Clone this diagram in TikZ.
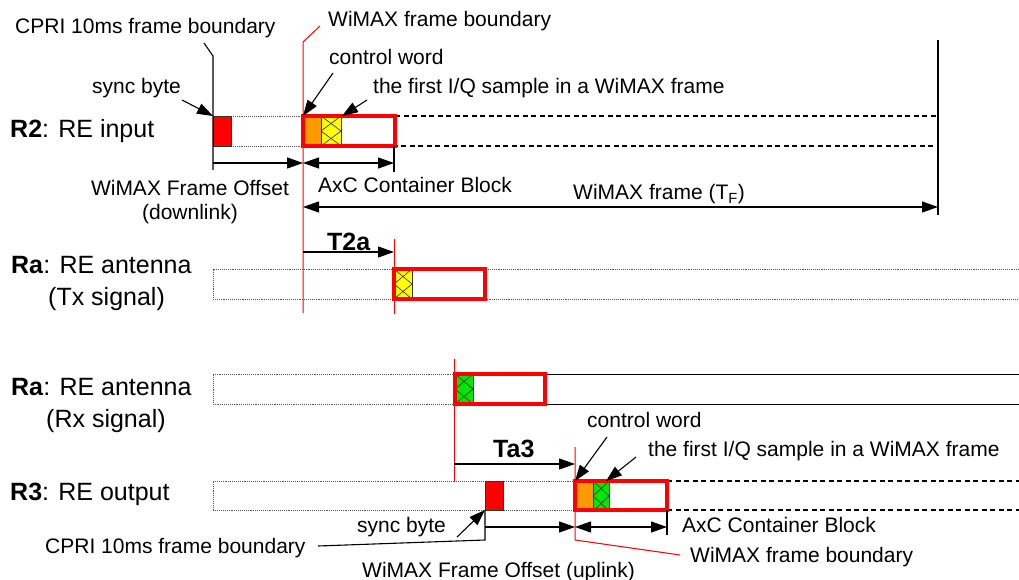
\documentclass[tikz,border=0pt]{standalone}
\usepackage{fontspec}
\setmainfont{Liberation Sans}
\usetikzlibrary{arrows.meta}
\definecolor{cwor}{RGB}{255,153,0}
\definecolor{iqy}{RGB}{255,255,0}
\definecolor{iqg}{RGB}{0,230,0}
\definecolor{pred}{RGB}{255,0,0}
% #1 x, #2 y (top), #3 width, #4 colour
\newcommand\hatchcell[4]{%
  \fill[#4] (#1,#2) rectangle ++(#3,30);
  \draw[hatchl] (#1,#2) -- ++(#3,15) -- ++(-#3,15);
  \draw[hatchl] (#1+#3,#2) -- ++(-#3,15) -- ++(#3,15);
  \draw[cellb] (#1,#2) rectangle ++(#3,30);}
\begin{document}
\begin{tikzpicture}[x=1pt,y=-1pt,
  >={Triangle[length=16pt,width=11pt]},
  lbl/.style={font=\fontsize{21}{25}\selectfont,inner sep=0pt,anchor=base west},
  big/.style={font=\fontsize{25}{30}\selectfont,inner sep=0pt,anchor=base west},
  band/.style={draw=black!65,line width=0.9pt,densely dotted},
  solidband/.style={draw=black,line width=1pt},
  dline/.style={draw=black,line width=1.8pt,dash pattern=on 5pt off 3.5pt},
  redbox/.style={draw=pred,line width=3.2pt},
  redl/.style={draw=pred,line width=1pt},
  dim/.style={draw=black,line width=1.1pt},
  hatchl/.style={draw=black!75,line width=0.7pt},
  cellb/.style={draw=black!80,line width=0.8pt},
  syncb/.style={fill=pred,draw=black!80,line width=0.8pt}]
\useasboundingbox (0,0) rectangle (1019,580);

% ---------------- texts ----------------
\node[lbl] (cpri1) at (15,33.5) {CPRI 10ms frame boundary};
\node[lbl] (wfb1) at (328,27) {WiMAX frame boundary};
\node[lbl] (cw1) at (329,64.5) {control word};
\node[lbl] (iq1) at (373,94) {the first I/Q sample in a WiMAX frame};
\node[lbl] (sb1) at (92,93.5) {sync byte};
\node[big] (r2) at (10,138) {\textbf{R2}: RE input};
\node[lbl,anchor=base] (wfo1) at (190,195) {WiMAX Frame Offset};
\node[lbl,anchor=base] (wfo1b) at (190,219) {(downlink)};
\node[lbl] (axc1) at (318,193) {AxC Container Block};
\node[lbl] (tf) at (573,200) {WiMAX frame (T\textsubscript{F})};
\node[big] (t2a) at (327,250) {\textbf{T2a}};
\node[big] (ratx) at (11,273) {\textbf{Ra}: RE antenna};
\node[big] (ratx2) at (48,305) {(Tx signal)};
\node[big] (rarx) at (11,395) {\textbf{Ra}: RE antenna};
\node[big] (rarx2) at (46,427) {(Rx signal)};
\node[big] (ta3) at (493,457) {\textbf{Ta3}};
\node[lbl] (cw2) at (587,427) {control word};
\node[lbl] (iq2) at (648,456) {the first I/Q sample in a WiMAX frame};
\node[big] (r3) at (10,500) {\textbf{R3}: RE output};
\node[lbl] (sb2) at (357,532) {sync byte};
\node[lbl] (cpri2) at (45,553) {CPRI 10ms frame boundary};
\node[lbl] (axc2) at (682,532) {AxC Container Block};
\node[lbl] (wfb2) at (690,562) {WiMAX frame boundary};
\node[lbl] (wfo2) at (362,577) {WiMAX Frame Offset (uplink)};

% ---------------- R2 row ----------------
\coordinate (r2sync) at (213,116);
\coordinate (r2box) at (303,116);
\coordinate (r2boxe) at (395,146);
\draw[band] (231,116) -- (303,116) (231,146) -- (303,146);
\draw[dline] (395,116) -- (938,116) -- (938,146) -- (395,146);
\draw[syncb] (213,116) rectangle (231,146);
\fill[cwor] (303,116) rectangle (321,146);
\hatchcell{321}{116}{20}{iqy}
\draw[redbox] (r2box) rectangle (r2boxe);

\coordinate (cpriA) at (204,43);
\coordinate (cpriB) at (213,56);
\coordinate (cpriC) at (213,170);
\draw[dim] (cpriA) -- (cpriB) -- (cpriC);
\coordinate (wfbA) at (320,26);
\coordinate (wfbB) at (303,42);
\coordinate (wfbC) at (303,313);
\draw[redl] (wfbA) -- (wfbB) -- (wfbC);
\coordinate (endA) at (938,40);
\coordinate (endB) at (938,215);
\draw[dim] (endA) -- (endB);

\coordinate (sb1s) at (182,100);
\draw[dim,->] (sb1s) -- (r2sync);
\coordinate (cw1s) at (333,73);
\draw[dim,->] (cw1s) -- (r2box);
\coordinate (iq1s) at (367,100);
\coordinate (iq1t) at (342,116);
\draw[dim,->] (iq1s) -- (iq1t);

\coordinate (d1a) at (213,163);
\coordinate (d1b) at (303,163);
\coordinate (d1c) at (394,163);
\draw[dim,->] (d1a) -- (d1b);
\draw[dim,<->] (d1b) -- (d1c);
\coordinate (tk1a) at (394,146);
\coordinate (tk1b) at (394,172);
\draw[dim] (tk1a) -- (tk1b);
\coordinate (tfa) at (303,207);
\coordinate (tfb) at (938,207);
\draw[dim,<->] (tfa) -- (tfb);

% ---------------- T2a / Ra Tx ----------------
\coordinate (t2aa) at (303,252);
\coordinate (t2ab) at (394,252);
\draw[dim,->] (t2aa) -- (t2ab);
\coordinate (rl2a) at (394,239);
\coordinate (rl2b) at (394,314);
\draw[redl] (rl2a) -- (rl2b);

\draw[band] (1019,269) -- (213,269) -- (213,299) -- (1019,299);
\hatchcell{394}{269}{18}{iqy}
\draw[redbox] (394,269) rectangle (485,299);

% ---------------- Ra Rx ----------------
\draw[band] (455,374) -- (213,374) -- (213,404) -- (455,404);
\draw[solidband] (545,374) -- (1019,374) (545,404) -- (1019,404);
\hatchcell{455}{374}{18}{iqg}
\draw[redbox] (455,374) rectangle (545,404);
\coordinate (rl3a) at (454,359);
\coordinate (rl3b) at (454,481);
\draw[redl] (rl3a) -- (rl3b);

\coordinate (ta3a) at (454,464);
\coordinate (ta3b) at (575,464);
\draw[dim,->] (ta3a) -- (ta3b);
\coordinate (wfb2a) at (575,447);
\coordinate (wfb2b) at (575,540);
\coordinate (wfb2c) at (680,555);
\draw[redl] (wfb2a) -- (wfb2b) -- (wfb2c);

% ---------------- R3 row ----------------
\coordinate (r3sync) at (485,510);
\coordinate (r3box) at (575,481);
\coordinate (r3boxe) at (667,510);
\draw[band] (575,481) -- (213,481) -- (213,510) -- (575,510);
\draw[dline] (667,481) -- (1019,481) (667,510) -- (1019,510);
\draw[syncb] (485,481) rectangle (503,510);
\fill[cwor] (575,481) rectangle (593,510);
\hatchcell{593}{481}{16}{iqg}
\draw[redbox] (r3box) rectangle (r3boxe);

\coordinate (cpri2a) at (318,546);
\coordinate (cpri2b) at (485,540);
\draw[dim] (cpri2a) -- (cpri2b) -- (r3sync);

\coordinate (cw2s) at (607,437);
\draw[dim,->] (cw2s) -- (r3box);
\coordinate (iq2s) at (636,457);
\coordinate (iq2t) at (606,481);
\draw[dim,->] (iq2s) -- (iq2t);
\coordinate (sb2s) at (457,537);
\draw[dim,->] (sb2s) -- (r3sync);

\coordinate (d2a) at (485,527);
\coordinate (d2b) at (575,527);
\coordinate (d2c) at (667,527);
\draw[dim,->] (d2a) -- (d2b);
\draw[dim,<->] (d2b) -- (d2c);
\coordinate (tk2a) at (667,510);
\coordinate (tk2b) at (667,535);
\draw[dim] (tk2a) -- (tk2b);
\end{tikzpicture}
\end{document}
